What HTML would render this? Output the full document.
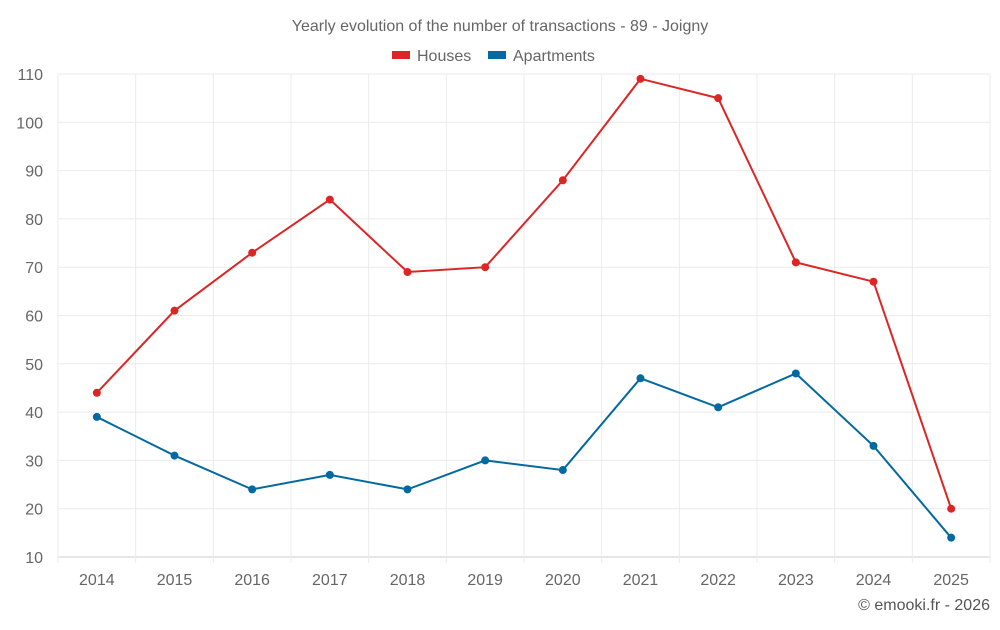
<!DOCTYPE html>
<html><head><meta charset="utf-8"><style>
body{margin:0;background:#fff;font-family:"Liberation Sans",sans-serif;}
svg text{font-family:"Liberation Sans",sans-serif;}
</style></head><body>
<svg id="chart" width="1000" height="625">
<text x="500" y="31" text-anchor="middle" font-size="16" fill="#666">Yearly evolution of the number of transactions - 89 - Joigny</text>
<g>
<g><rect x="392" y="51" width="18" height="8" fill="#dc2626"/><text x="417" y="61" font-size="16" fill="#666">Houses</text></g>
<g><rect x="488" y="51" width="18" height="8" fill="#0369a1"/><text x="513" y="61" font-size="16" fill="#666">Apartments</text></g>
</g>
<g id="grid"></g>
<g id="axes"></g>
<g id="series"></g>
<text x="990" y="610" text-anchor="end" font-size="16" fill="#555">© emooki.fr - 2026</text>
</svg>
<script>
const years=[2014,2015,2016,2017,2018,2019,2020,2021,2022,2023,2024,2025];
const houses=[44,61,73,84,69,70,88,109,105,71,67,20];
const apartments=[39,31,24,27,24,30,28,47,41,48,33,14];
const yTicks=[10,20,30,40,50,60,70,80,90,100,110];
const NS='http://www.w3.org/2000/svg';
const pLeft=58,pRight=990,pTop=74,pBottom=557;
const step=(pRight-pLeft)/years.length;
const xs=i=>pLeft+step*(i+0.5);
const ys=v=>pBottom-(v-10)/100*(pBottom-pTop);
function mk(t,a,p){const e=document.createElementNS(NS,t);for(const k in a)e.setAttribute(k,a[k]);p.appendChild(e);return e;}
const gridG=document.getElementById('grid'),axesG=document.getElementById('axes'),seriesG=document.getElementById('series');
yTicks.forEach(v=>{
 const l=mk('line',{x1:pLeft,x2:pRight,y1:ys(v),y2:ys(v),stroke:v===10?'#ccc':'#ebebeb'},gridG);
 
 
 const t=mk('text',{x:43,y:ys(v)+6,'text-anchor':'end','font-size':16,fill:'#666'},axesG);
 t.textContent=v;
 
 
});
years.forEach((yr,i)=>{
 const l=mk('line',{x1:pLeft+step*i,x2:pLeft+step*i,y1:pTop,y2:pBottom+6,stroke:'#ebebeb'},gridG);
 
 
 const t=mk('text',{x:xs(i),y:585,'text-anchor':'middle','font-size':16,fill:'#666'},axesG);
 t.textContent=yr;
 
 
});
mk('line',{x1:pRight,x2:pRight,y1:pTop,y2:pBottom+6,stroke:'#ebebeb'},gridG);
function draw(vals,color,name){
 const p=mk('polyline',{points:vals.map((v,i)=>xs(i)+','+ys(v)).join(' '),fill:'none',stroke:color,'stroke-width':2},seriesG);
 
 
 vals.forEach((v,i)=>{
  const c=mk('circle',{cx:xs(i),cy:ys(v),r:4,fill:color},seriesG);
  
  
 });
}
draw(houses,'#dc2626','houses');
draw(apartments,'#0369a1','apartments');
</script>
</body></html>
